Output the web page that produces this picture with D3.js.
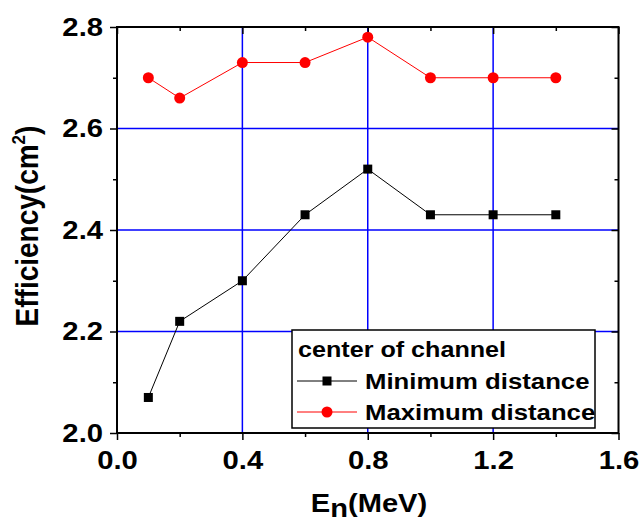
<!DOCTYPE html>
<html lang="en">
  <head>
    <meta charset="UTF-8" />
    <title>Efficiency vs neutron energy</title>
    <style>
      body {
        margin: 0;
        background: #fff;
      }
      svg {
        font-family: 'Liberation Sans', Arial, sans-serif;
        font-weight: bold;
      }
    </style>
  </head>
  <body>
    <svg width="642" height="525"></svg>
    <script src="https://d3js.org/d3.v7.min.js"></script>
    <script>
      // values
      const energies = [0.1, 0.2, 0.4, 0.6, 0.8, 1.0, 1.2, 1.4];
      const minDistance = [2.07, 2.22, 2.3, 2.43, 2.52, 2.43, 2.43, 2.43];
      const maxDistance = [2.7, 2.66, 2.73, 2.73, 2.78, 2.7, 2.7, 2.7];
      const xTicks = [0, 0.4, 0.8, 1.2, 1.6];
      const xMinor = [0.2, 0.6, 1.0, 1.4];
      const yTicks = [2.0, 2.2, 2.4, 2.6, 2.8];
      const yMinor = [2.1, 2.3, 2.5, 2.7];
      const xGrid = [0.4, 0.8, 1.2];
      const yGrid = [2.2, 2.4, 2.6];
      const legendTitle = 'center of channel';
      const seriesNames = ['Minimum distance', 'Maximum distance'];

      const svg = d3.select('svg'),
        margin = { top: 27, left: 117, right: 23.5, bottom: 92 },
        width = 642 - margin.left - margin.right,
        height = 525 - margin.top - margin.bottom;

      const SX = 1.17; // text in the reference is a bit wide

      const x = d3.scaleLinear().domain([0, 1.6]).range([0, width]);
      const y = d3.scaleLinear().domain([2.0, 2.8]).range([height, 0]);

      const g = svg
        .append('g')
        .attr('transform', `translate(${margin.left},${margin.top})`);

      // grid
      g.selectAll('.gx')
        .data(xGrid)
        .enter()
        .append('line')
        .attr('x1', (d) => x(d))
        .attr('x2', (d) => x(d))
        .attr('y1', 0)
        .attr('y2', height)
        .attr('stroke', '#0000ff')
        .attr('stroke-width', 1.5);
      g.selectAll('.gy')
        .data(yGrid)
        .enter()
        .append('line')
        .attr('x1', 0)
        .attr('x2', width)
        .attr('y1', (d) => y(d))
        .attr('y2', (d) => y(d))
        .attr('stroke', '#0000ff')
        .attr('stroke-width', 1.5);

      function styleAxis(sel) {
        sel.select('.domain').remove();
        sel.selectAll('line').attr('stroke', '#000').attr('stroke-width', 1.5);
        sel.attr('font-family', null).attr('font-size', 25);
      }

      // bottom + left axes, ticks outside
      const bottom = g
        .append('g')
        .attr('transform', `translate(0,${height})`)
        .call(
          d3.axisBottom(x).tickValues(xTicks).tickSize(7).tickPadding(11)
            .tickFormat(d3.format('.1f'))
        )
        .call(styleAxis);
      bottom.selectAll('text').attr('transform', `scale(${SX},1)`);

      g.append('g')
        .attr('transform', `translate(0,${height})`)
        .call(d3.axisBottom(x).tickValues(xMinor).tickSize(4).tickFormat(''))
        .call(styleAxis);

      const left = g
        .append('g')
        .call(
          d3.axisLeft(y).tickValues(yTicks).tickSize(7).tickPadding(7)
            .tickFormat(d3.format('.1f'))
        )
        .call(styleAxis);
      left
        .selectAll('text')
        .attr('x', -14 / SX)
        .attr('transform', `scale(${SX},1)`);

      g.append('g')
        .call(d3.axisLeft(y).tickValues(yMinor).tickSize(4).tickFormat(''))
        .call(styleAxis);

      // top + right mirror axes, ticks inside
      g.append('g')
        .call(d3.axisTop(x).tickValues(xTicks).tickSize(-7).tickFormat(''))
        .call(styleAxis);
      g.append('g')
        .call(d3.axisTop(x).tickValues(xMinor).tickSize(-4).tickFormat(''))
        .call(styleAxis);
      g.append('g')
        .attr('transform', `translate(${width},0)`)
        .call(d3.axisRight(y).tickValues(yTicks).tickSize(-7).tickFormat(''))
        .call(styleAxis);
      g.append('g')
        .attr('transform', `translate(${width},0)`)
        .call(d3.axisRight(y).tickValues(yMinor).tickSize(-4).tickFormat(''))
        .call(styleAxis);

      // frame
      g.append('rect')
        .attr('width', width)
        .attr('height', height)
        .attr('fill', 'none')
        .attr('stroke', '#000')
        .attr('stroke-width', 2);

      // series
      const series = [
        { name: seriesNames[0], values: minDistance, color: '#000000', shape: 'square' },
        { name: seriesNames[1], values: maxDistance, color: '#ff0000', shape: 'circle' },
      ];

      const line = d3
        .line()
        .x((d) => x(d[0]))
        .y((d) => y(d[1]));

      function marker(sel, s) {
        if (s.shape === 'square') {
          sel.append('rect')
            .attr('x', -4.5)
            .attr('y', -4.5)
            .attr('width', 9)
            .attr('height', 9)
            .attr('fill', s.color);
        } else {
          sel.append('circle').attr('r', 5.5).attr('fill', s.color);
        }
      }

      series.forEach((s) => {
        const pts = energies.map((e, i) => [e, s.values[i]]);
        g.append('path')
          .datum(pts)
          .attr('d', line)
          .attr('fill', 'none')
          .attr('stroke', s.color)
          .attr('stroke-width', 1);
        g.selectAll(null)
          .data(pts)
          .enter()
          .append('g')
          .attr('transform', (d) => `translate(${x(d[0])},${y(d[1])})`)
          .each(function () {
            marker(d3.select(this), s);
          });
      });

      // legend
      const lg = svg.append('g').attr('transform', 'translate(292,330)');
      lg.append('rect')
        .attr('width', 303)
        .attr('height', 98)
        .attr('fill', '#fff')
        .attr('stroke', '#000')
        .attr('stroke-width', 1.5);
      lg.append('text')
        .attr('transform', `translate(6,27) scale(${SX},1)`)
        .attr('font-size', 21.5)
        .text(legendTitle);
      series.forEach((s, i) => {
        const cy = 51 + i * 31;
        lg.append('line')
          .attr('x1', 5)
          .attr('x2', 65)
          .attr('y1', cy)
          .attr('y2', cy)
          .attr('stroke', s.color)
          .attr('stroke-width', 1);
        const m = lg.append('g').attr('transform', `translate(35,${cy})`);
        marker(m, s);
        lg.append('text')
          .attr('transform', `translate(73,${cy + 8}) scale(${SX},1)`)
          .attr('font-size', 22)
          .text(s.name);
      });

      // axis titles
      const yt = svg
        .append('text')
        .attr('transform', `translate(38,226) scale(1.1,1) rotate(-90)`)
        .attr('text-anchor', 'middle')
        .attr('font-size', 28);
      yt.append('tspan').text('Efficiency(cm');
      yt.append('tspan').attr('font-size', 17).attr('dy', -12).text('2');
      yt.append('tspan').attr('dy', 12).text(')');

      const xt = svg
        .append('text')
        .attr('transform', `translate(369,512) scale(1.12,1)`)
        .attr('text-anchor', 'middle')
        .attr('font-size', 26);
      xt.append('tspan').text('E');
      xt.append('tspan').attr('dy', 5).text('n');
      xt.append('tspan').attr('dy', -5).text('(MeV)');
    </script>
  </body>
</html>
